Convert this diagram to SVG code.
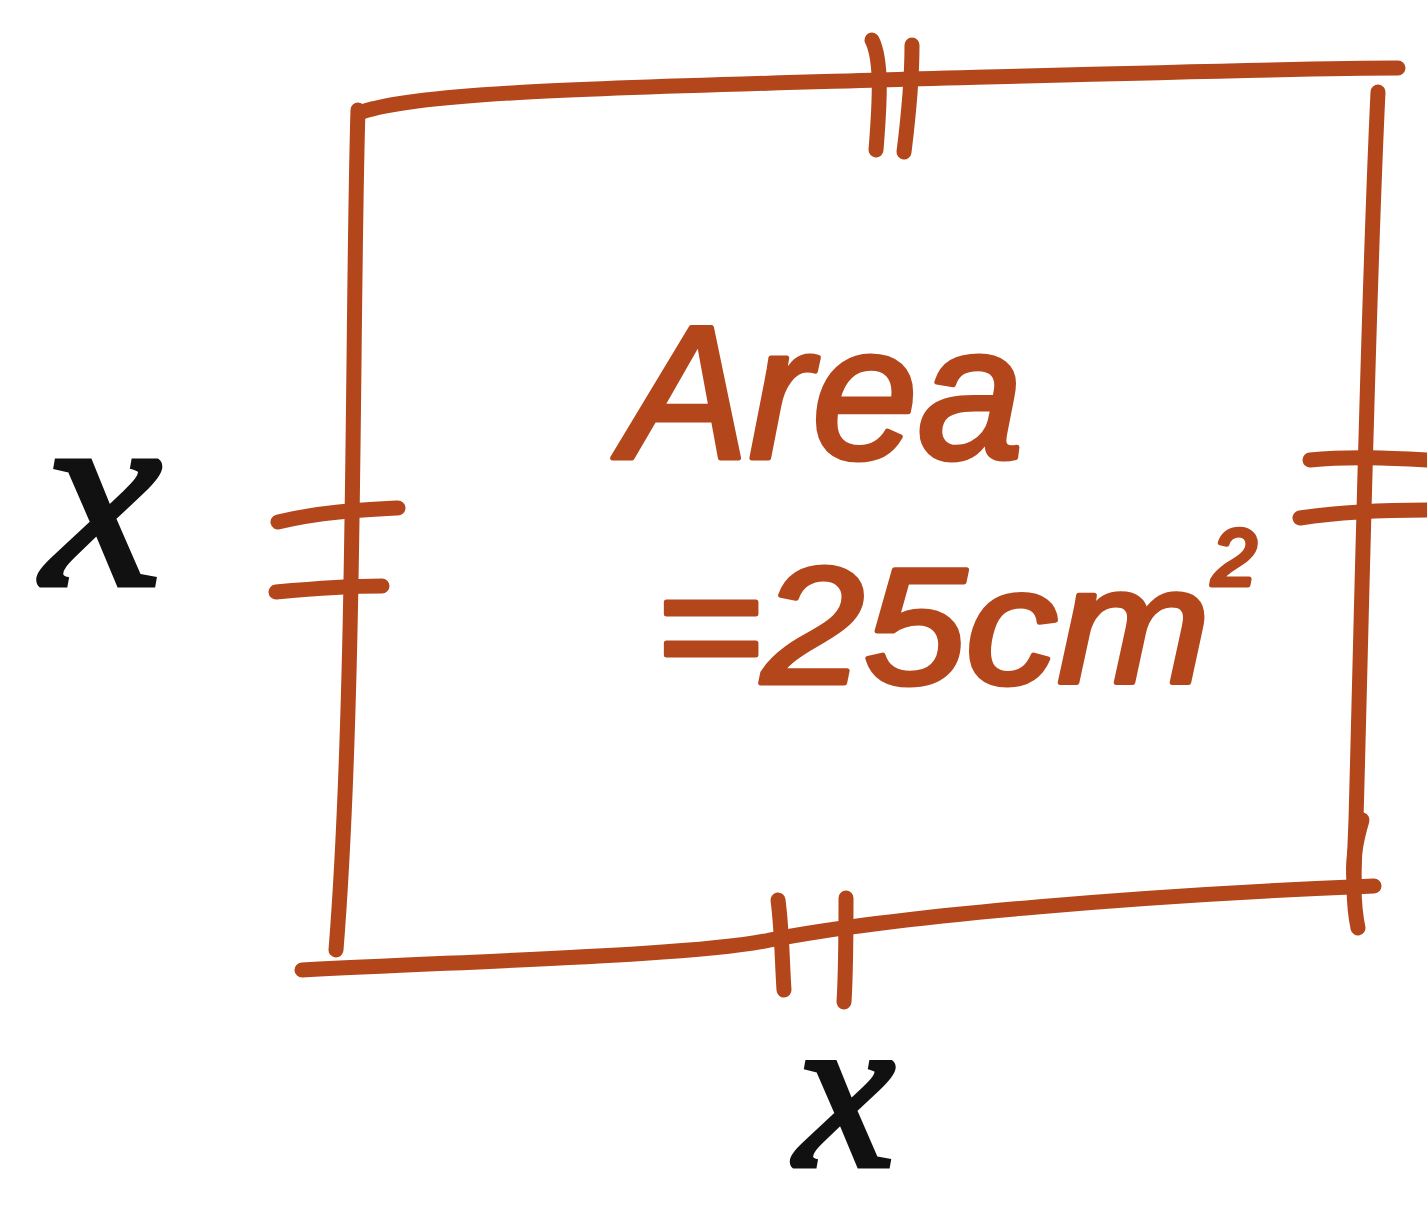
<svg xmlns="http://www.w3.org/2000/svg" width="1427" height="1214" viewBox="0 0 1427 1214">
<style>
.s{fill:none;stroke:#B4461B;stroke-width:15;stroke-linecap:round;stroke-linejoin:round}
.t{fill:#B4461B;stroke:#B4461B;stroke-width:5;stroke-linejoin:round;font-family:"Liberation Sans",sans-serif;font-style:italic}
.x{fill:#111;stroke:#111;stroke-width:5;font-family:"Liberation Serif",serif;font-style:italic}
</style>
<rect width="1427" height="1214" fill="#fff"/>
<g id="square">
<path class="s" d="M362 112 C420 92 600 88 880 80 C1100 74 1300 68 1398 68"/>
<path class="s" d="M358 110 C352 300 356 700 336 950"/>
<path class="s" d="M302 970 C500 960 700 955 770 940 C900 915 1150 895 1374 886"/>
<path class="s" d="M1378 92 C1368 300 1362 600 1356 820 C1354 870 1352 900 1358 928"/>
</g>
<g id="ticks">
<path class="s" d="M872 40 C882 60 880 100 876 150"/>
<path class="s" d="M912 45 C912 80 908 120 904 152"/>
<path class="s" d="M278 522 C320 512 360 510 398 508"/>
<path class="s" d="M276 592 C320 588 350 586 382 586"/>
<path class="s" d="M1310 460 C1350 456 1390 458 1427 460"/>
<path class="s" d="M1300 518 C1340 512 1390 510 1427 510"/>
<path class="s" d="M778 900 C782 930 782 960 784 990"/>
<path class="s" d="M846 898 C846 940 846 970 844 1002"/>
<path class="s" d="M1362 820 C1356 840 1352 860 1354 880"/>
</g>
<g id="labels">
<text class="t" x="622" y="458" font-size="190">Area</text>
<text class="t" x="655" y="683" font-size="165" textLength="555" lengthAdjust="spacingAndGlyphs">=25cm</text>
<text class="t" x="1212" y="585" font-size="80">2</text>
<text class="x" x="42" y="585" font-size="270">x</text>
<text class="x" x="795" y="1166" font-size="225">x</text>
</g>
</svg>
